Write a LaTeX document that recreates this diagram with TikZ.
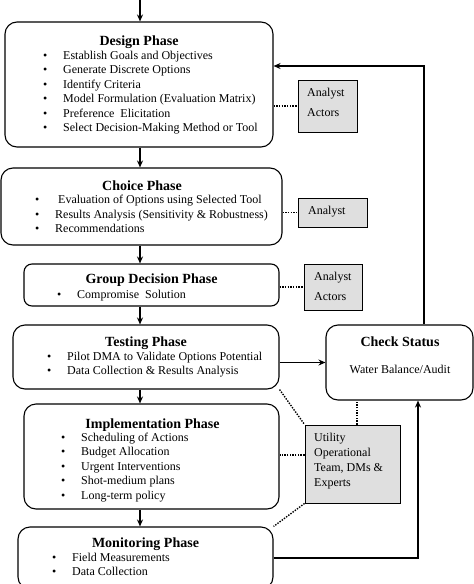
\documentclass[tikz,border=0pt]{standalone}
\usepackage{fontspec}
\setmainfont{Liberation Serif}
\usetikzlibrary{arrows.meta,positioning}
\newcommand{\bul}{\makebox[20pt][l]{\textbullet}}

\begin{document}
\begin{tikzpicture}[
    x=1pt, y=-1pt,
    phase/.style={
      draw=black,
      line width=1.1pt,
      rounded corners=12pt,
      inner sep=0pt
    },
    actor/.style={
      draw=black,
      fill=gray!25,
      line width=0.9pt,
      inner sep=0pt
    },
    title/.style={anchor=base, inner sep=0pt, font=\fontsize{14}{16}\selectfont\bfseries},
    items/.style={anchor=base west, inner sep=0pt, font=\fontsize{12}{14.5}\selectfont},
    who/.style={anchor=base west, inner sep=0pt, font=\fontsize{12}{15}\selectfont},
    flow/.style={line width=1.3pt, -{Stealth[length=7pt, width=6pt]}},
    link/.style={line width=1.4pt, dash pattern=on 1.4pt off 1.3pt}
  ]
  \useasboundingbox (0,0) rectangle (474,584);

  % phases
  \node[phase, minimum width=268pt, minimum height=125pt] (design) at (139,84.5) {};
  \node[title] (designT) at (139,45) {Design Phase};
  \node[items] (designL) at (43,59) {\begin{tabular}[t]{@{}l@{}}
      \bul Establish Goals and Objectives\\
      \bul Generate Discrete Options\\
      \bul Identify Criteria\\
      \bul Model Formulation (Evaluation Matrix)\\
      \bul Preference\ \ Elicitation\\
      \bul Select Decision-Making Method or Tool
    \end{tabular}};

  \node[phase, minimum width=281pt, minimum height=77pt] (choice) at (141.5,206.5) {};
  \node[title] (choiceT) at (142,190) {Choice Phase};
  \node[items] (choiceL) at (35,203.5) {\begin{tabular}[t]{@{}l@{}}
      \bul\hspace{3pt}Evaluation of Options using Selected Tool\\
      \bul Results Analysis (Sensitivity \& Robustness)\\
      \bul Recommendations
    \end{tabular}};

  \node[phase, rounded corners=8pt, minimum width=255pt, minimum height=42pt] (group) at (151.5,285) {};
  \node[title] (groupT) at (151.5,283) {Group Decision Phase};
  \node[items] (groupL) at (57,298) {\bul Compromise\ \ Solution};

  \node[phase, minimum width=266pt, minimum height=64pt] (testing) at (146,357) {};
  \node[title] (testingT) at (146,346.5) {Testing Phase};
  \node[items] (testingL) at (47,360) {\begin{tabular}[t]{@{}l@{}}
      \bul Pilot DMA to Validate Options Potential\\
      \bul Data Collection \& Results Analysis
    \end{tabular}};

  \node[phase, minimum width=255pt, minimum height=105pt] (impl) at (151.5,456.5) {};
  \node[title] (implT) at (152.5,428) {Implementation Phase};
  \node[items] (implL) at (61,441) {\begin{tabular}[t]{@{}l@{}}
      \bul Scheduling of Actions\\
      \bul Budget Allocation\\
      \bul Urgent Interventions\\
      \bul Shot-medium plans\\
      \bul Long-term policy
    \end{tabular}};

  \node[phase, minimum width=255pt, minimum height=62pt] (monitor) at (145.5,558) {};
  \node[title] (monitorT) at (145.5,547.5) {Monitoring Phase};
  \node[items] (monitorL) at (52,561) {\begin{tabular}[t]{@{}l@{}}
      \bul Field Measurements\\
      \bul Data Collection
    \end{tabular}};

  \node[phase, minimum width=147pt, minimum height=75pt] (check) at (399.5,362.5) {};
  \node[title] (checkT) at (400,346.5) {Check Status};
  \node[items, anchor=base] (checkL) at (400,373.5) {Water Balance/Audit};

  % actors
  \node[actor, minimum width=59pt, minimum height=52pt] (a1) at (327.5,106) {};
  \node[who, font=\fontsize{12}{20}\selectfont] (a1L) at (307,96) {\begin{tabular}[t]{@{}l@{}}
      Analyst\\ Actors
    \end{tabular}};
  \node[actor, minimum width=69pt, minimum height=29pt] (a2) at (332.5,212.5) {};
  \node[who] (a2L) at (308,214) {Analyst};
  \node[actor, minimum width=58pt, minimum height=46pt] (a3) at (333,287) {};
  \node[who, font=\fontsize{12}{20}\selectfont] (a3L) at (314,280) {\begin{tabular}[t]{@{}l@{}}
      Analyst\\ Actors
    \end{tabular}};
  \node[actor, minimum width=95pt, minimum height=78pt] (util) at (352.5,464) {};
  \node[who] (utilL) at (314,441) {\begin{tabular}[t]{@{}l@{}}
      Utility\\ Operational\\ Team, DMs \&\\ Experts
    \end{tabular}};

  % main flow
  \coordinate (entry) at (140,0);
  \draw[flow] (entry) -- (design.north -| entry);
  \draw[flow] (design.south -| entry) -- (choice.north -| entry);
  \draw[flow] (choice.south -| entry) -- (group.north -| entry);
  \draw[flow] (group.south -| entry) -- (testing.north -| entry);
  \draw[flow] (testing.south -| entry) -- (impl.north -| entry);
  \draw[flow] (impl.south -| entry) -- (monitor.north -| entry);

  % feedback
  \draw[flow] (testing.east |- check.west) -- (check.west);
  \draw[flow] (monitor.east) -| ([xshift=18.5pt]check.south);
  \draw[flow] ([xshift=24.5pt]check.north) |- ([yshift=18.5pt]design.east);

  % who is involved
  \draw[link] (design.east |- a1.west) -- (a1.west);
  \draw[link] (choice.east |- a2.west) -- (a2.west);
  \draw[link] (group.east |- a3.west) -- (a3.west);
  \draw[link] (testing.south east) -- (util.north west);
  \draw[link] ([yshift=9pt]util.west) -- ([yshift=9pt]util.west -| impl.east);
  \draw[link] (util.south west) -- (monitor.north east);
  \draw[link] ([xshift=4.5pt]util.north) -- ([xshift=4.5pt]util.north |- check.south);
\end{tikzpicture}
\end{document}
